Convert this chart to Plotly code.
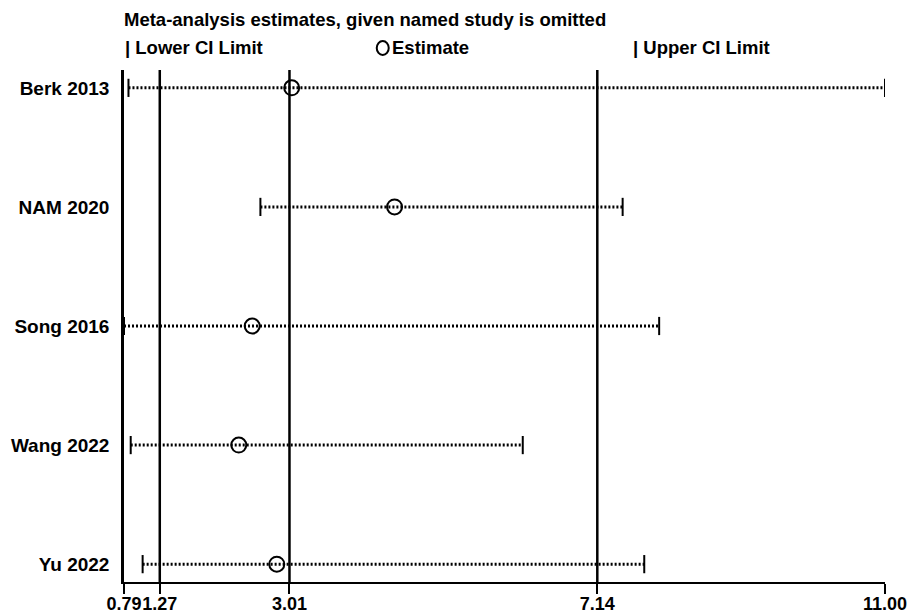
import plotly.graph_objects as go

# ---- data ----
studies = ["Berk 2013", "NAM 2020", "Song 2016", "Wang 2022", "Yu 2022"]
estimate = [3.04, 4.42, 2.51, 2.33, 2.84]
lower = [0.85, 2.62, 0.79, 0.88, 1.04]
upper = [11.00, 7.48, 7.97, 6.14, 7.77]
overall_lower = 1.27
overall_estimate = 3.01
overall_upper = 7.14
tick_vals = [0.79, 1.27, 3.01, 7.14, 11.00]
tick_text = ["0.79", "1.27", "3.01", "7.14", "11.00"]
title_text = "Meta-analysis estimates, given named study is omitted"
legend_labels = ["Lower CI Limit", "Estimate", "Upper CI Limit"]

FONT = "Liberation Sans, Arial, sans-serif"
BLACK = "#000000"

fig = go.Figure()

# CI lines with end caps
for s, lo, hi in zip(studies, lower, upper):
    fig.add_trace(go.Scatter(
        x=[lo, hi], y=[s, s], mode="lines+markers",
        line=dict(color=BLACK, width=3, dash="2px,2px"),
        marker=dict(symbol="line-ns", size=13, line=dict(color=BLACK, width=2)),
        showlegend=False, hoverinfo="skip"))

# estimates
fig.add_trace(go.Scatter(
    x=estimate, y=studies, mode="markers",
    marker=dict(symbol="circle-open", size=15, color=BLACK, line=dict(color=BLACK, width=2)),
    showlegend=False))

# overall reference lines
for v in [overall_lower, overall_estimate, overall_upper]:
    fig.add_shape(type="line", xref="x", yref="paper", x0=v, x1=v, y0=0, y1=1,
                  line=dict(color=BLACK, width=2.5))

# title & legend
fig.add_annotation(xref="paper", yref="paper", x=-0.003, y=1.098, xanchor="left", yanchor="middle",
                   text=title_text, showarrow=False,
                   font=dict(family=FONT, size=18.5, color=BLACK, weight="bold"))
leg_font = dict(family=FONT, size=18.5, color=BLACK, weight="bold")
fig.add_annotation(xref="paper", yref="paper", x=-0.001, y=1.043, xanchor="left", yanchor="middle",
                   text="| " + legend_labels[0], showarrow=False, font=leg_font)
fig.add_annotation(xref="paper", yref="paper", x=0.349, y=1.043, xanchor="left", yanchor="middle",
                   text=legend_labels[1], showarrow=False, font=leg_font)
fig.add_annotation(xref="paper", yref="paper", x=0.6665, y=1.043, xanchor="left", yanchor="middle",
                   text="| " + legend_labels[2], showarrow=False, font=leg_font)
# legend circle symbol
fig.add_shape(type="circle", xref="paper", yref="paper",
              xsizemode="pixel", ysizemode="pixel",
              xanchor=0.340, yanchor=1.043, x0=-6, x1=6, y0=-7, y1=7,
              line=dict(color=BLACK, width=2))

fig.update_layout(
    width=907, height=607,
    margin=dict(l=116, r=30, t=62, b=33),
    plot_bgcolor="white", paper_bgcolor="white",
    font=dict(family=FONT, size=18, color=BLACK),
    xaxis=dict(range=[min(tick_vals), max(tick_vals)], tickvals=tick_vals, ticktext=tick_text,
               showline=True, linecolor=BLACK, linewidth=2, ticks="outside", ticklen=10,
               tickwidth=2, tickcolor=BLACK, showgrid=False, zeroline=False,
               tickangle=0, automargin=False, ticklabelstandoff=-6,
               tickfont=dict(family=FONT, size=18, color=BLACK, weight="bold")),
    yaxis=dict(type="category", categoryorder="array", categoryarray=studies,
               range=[4.15, -0.15], showline=True, linecolor=BLACK, linewidth=2.5,
               ticks="", showgrid=False, zeroline=False, ticklabelstandoff=8,
               automargin=False,
               tickfont=dict(family=FONT, size=19, color=BLACK, weight="bold")),
    showlegend=False,
)

fig.write_html("out.html")
